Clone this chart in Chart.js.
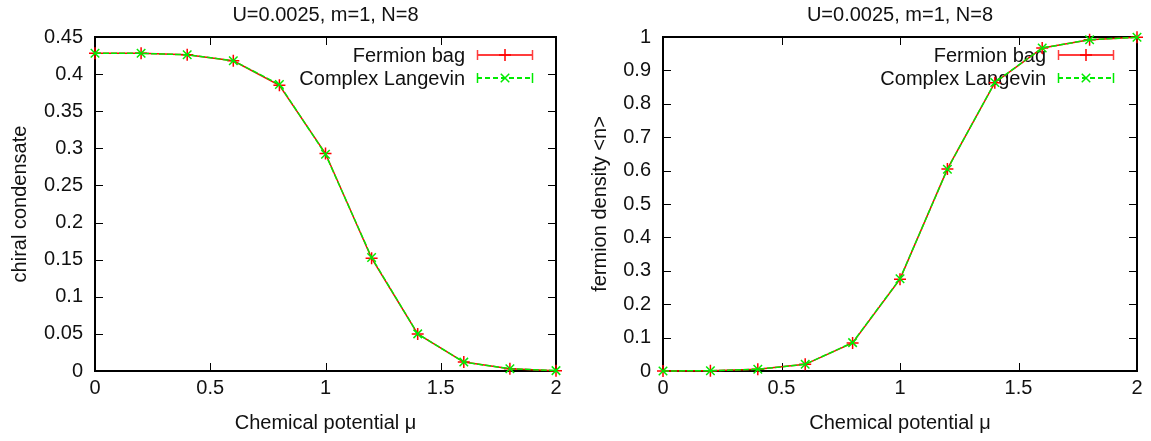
<!DOCTYPE html>
<html>
<head>
<meta charset="utf-8">
<script src="https://cdn.jsdelivr.net/npm/chart.js@4"></script>
<style>
  html, body { margin: 0; padding: 0; background: #fff; }
  #wrap { position: relative; width: 1151px; height: 441px; }
  canvas { position: absolute; top: 0; }
</style>
</head>
<body>
<div id="wrap">
  <canvas id="left" width="580" height="441" style="left:0"></canvas>
  <canvas id="right" width="571" height="441" style="left:580px"></canvas>
</div>
<script>
// data
const mu = [0, 0.2, 0.4, 0.6, 0.8, 1.0, 1.2, 1.4, 1.6, 1.8, 2.0];
const condensateFB = [0.428, 0.428, 0.426, 0.418, 0.385, 0.293, 0.152, 0.050, 0.012, 0.003, 0.0005];
const condensateCL = [0.428, 0.428, 0.426, 0.418, 0.386, 0.292, 0.153, 0.050, 0.012, 0.003, 0.0005];
const densityFB = [0, 0.001, 0.005, 0.020, 0.084, 0.275, 0.605, 0.863, 0.967, 0.992, 0.999];
const densityCL = [0, 0.001, 0.005, 0.020, 0.085, 0.276, 0.604, 0.864, 0.967, 0.992, 0.999];

const xTicks = [0, 0.5, 1, 1.5, 2];
const condensateTicks = [0, 0.05, 0.1, 0.15, 0.2, 0.25, 0.3, 0.35, 0.4, 0.45];
const densityTicks = [0, 0.1, 0.2, 0.3, 0.4, 0.5, 0.6, 0.7, 0.8, 0.9, 1];

const seriesNames = ['Fermion bag', 'Complex Langevin'];
const plotTitle = 'U=0.0025, m=1, N=8';
const xLabel = 'Chemical potential \u03bc';

const RED = 'rgb(255,0,0)';
const GREEN = 'rgb(0,235,0)';
const FONT = "'Liberation Sans', Arial, sans-serif";

Chart.defaults.font.family = FONT;
Chart.defaults.font.size = 20;
Chart.defaults.color = '#111';

// gnuplot-like frame: border, inward ticks on all sides, key and title
const gnuFrame = {
  id: 'gnuFrame',
  beforeDatasetsDraw(chart) {
    const { ctx, chartArea: a, scales } = chart;
    ctx.save();
    ctx.strokeStyle = '#000';
    ctx.lineWidth = 1;
    scales.x.ticks.forEach(t => {
      const px = Math.round(scales.x.getPixelForValue(t.value)) + 0.5;
      ctx.beginPath();
      ctx.moveTo(px, a.bottom); ctx.lineTo(px, a.bottom - 8);
      ctx.moveTo(px, a.top); ctx.lineTo(px, a.top + 8);
      ctx.stroke();
    });
    scales.y.ticks.forEach(t => {
      const py = Math.round(scales.y.getPixelForValue(t.value)) + 0.5;
      ctx.beginPath();
      ctx.moveTo(a.left, py); ctx.lineTo(a.left + 8, py);
      ctx.moveTo(a.right, py); ctx.lineTo(a.right - 8, py);
      ctx.stroke();
    });
    ctx.lineWidth = 2;
    ctx.strokeRect(a.left, a.top, a.right - a.left, a.bottom - a.top);

    // title
    ctx.fillStyle = '#111';
    ctx.font = '20px ' + FONT;
    ctx.textAlign = 'center';
    ctx.textBaseline = 'middle';
    ctx.fillText(plotTitle, (a.left + a.right) / 2, 15);

    // key
    const rows = [
      { name: seriesNames[0], color: 'rgb(255,60,60)', dash: [], style: 'cross' },
      { name: seriesNames[1], color: GREEN, dash: [5, 3], style: 'crossRot' }
    ];
    const x1 = a.right - 79, x2 = a.right - 23;
    rows.forEach((r, i) => {
      const y = a.top + 18 + i * 23;
      ctx.fillStyle = '#111';
      ctx.textAlign = 'right';
      ctx.fillText(r.name, x1 - 12, y + 1);
      ctx.strokeStyle = r.color;
      ctx.lineWidth = 2;
      ctx.setLineDash(r.dash);
      ctx.beginPath();
      ctx.moveTo(x1, y); ctx.lineTo(x2, y);
      ctx.stroke();
      ctx.setLineDash([]);
      ctx.lineWidth = 1.5;
      ctx.beginPath();
      ctx.moveTo(x1 + 0.5, y - 5); ctx.lineTo(x1 + 0.5, y + 5);
      ctx.moveTo(x2 - 0.5, y - 5); ctx.lineTo(x2 - 0.5, y + 5);
      ctx.stroke();
      ctx.strokeStyle = i === 0 ? RED : GREEN;
      Chart.helpers.drawPoint(ctx, { pointStyle: r.style, radius: 6, borderWidth: 1.5 }, (x1 + x2) / 2, y);
    });
    ctx.restore();
  }
};

function makeChart(id, fb, cl, yTicks, yLabel, yWidth, padRight) {
  return new Chart(document.getElementById(id), {
    type: 'line',
    data: {
      datasets: [
        {
          label: seriesNames[0],
          data: mu.map((m, i) => ({ x: m, y: fb[i] })),
          borderColor: RED,
          backgroundColor: RED,
          borderWidth: 1.5,
          pointStyle: 'cross',
          pointRadius: 6,
          pointBorderWidth: 1.5,
          order: 2,
          clip: false
        },
        {
          label: seriesNames[1],
          data: mu.map((m, i) => ({ x: m, y: cl[i] })),
          borderColor: GREEN,
          backgroundColor: GREEN,
          borderWidth: 1.5,
          borderDash: [6, 2],
          pointStyle: 'crossRot',
          pointRadius: 6,
          pointBorderWidth: 1.5,
          order: 1,
          clip: false
        }
      ]
    },
    options: {
      responsive: false,
      animation: false,
      events: [],
      layout: { padding: { top: 37, right: padRight, left: 0, bottom: 0 } },
      plugins: { legend: { display: false }, title: { display: false }, tooltip: { enabled: false } },
      scales: {
        x: {
          type: 'linear',
          min: 0, max: 2,
          afterBuildTicks: s => { s.ticks = xTicks.map(v => ({ value: v })); },
          afterFit: s => { s.height = 70; },
          ticks: { padding: 5, maxRotation: 0, callback: v => String(v) },
          grid: { display: false, drawTicks: false },
          border: { display: false },
          title: { display: true, text: xLabel, padding: { top: 0, bottom: 6 } }
        },
        y: {
          type: 'linear',
          min: yTicks[0], max: yTicks[yTicks.length - 1],
          afterBuildTicks: s => { s.ticks = yTicks.map(v => ({ value: v })); },
          afterFit: s => { s.width = yWidth; },
          ticks: { padding: 12, callback: v => String(v) },
          grid: { display: false, drawTicks: false },
          border: { display: false },
          title: { display: true, text: yLabel, padding: { top: 8, bottom: 0 } }
        }
      }
    },
    plugins: [gnuFrame]
  });
}

makeChart('left', condensateFB, condensateCL, condensateTicks, 'chiral condensate', 95, 24);
makeChart('right', densityFB, densityCL, densityTicks, 'fermion density <n>', 83, 14);
</script>
</body>
</html>
